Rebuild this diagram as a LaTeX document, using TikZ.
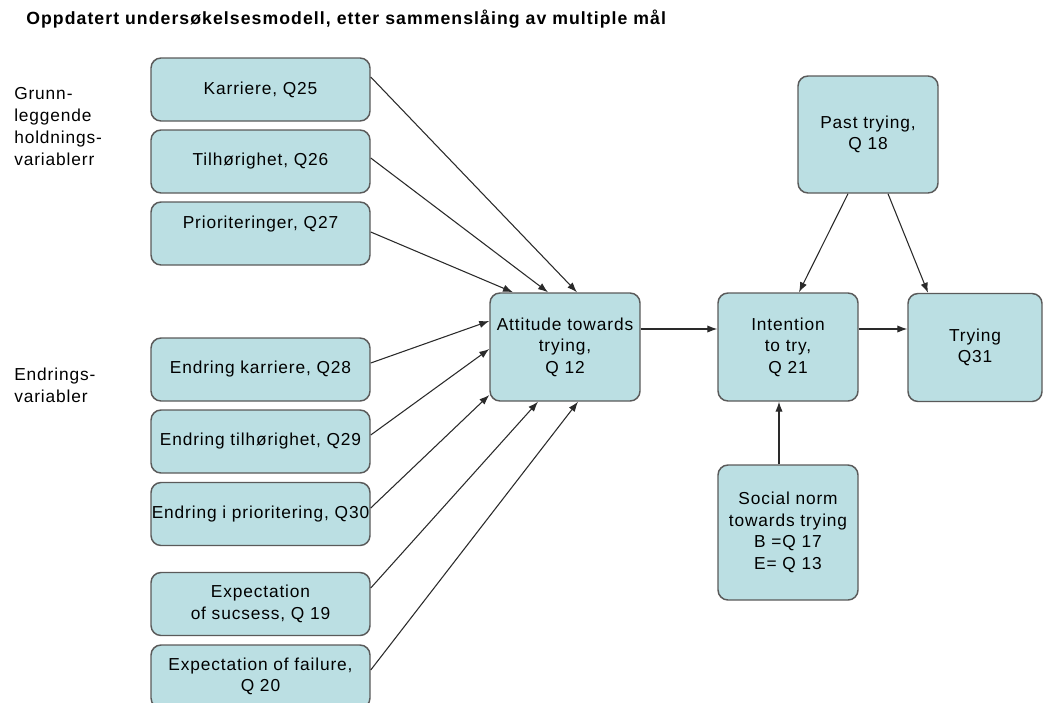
\documentclass[tikz,border=0pt]{standalone}
\usepackage{fontspec}
\setmainfont{Liberation Sans}[LetterSpace=5]
\newfontfamily\headfont{Liberation Sans}[LetterSpace=6]
\usetikzlibrary{arrows.meta,calc}
\definecolor{boxfill}{HTML}{BBDFE3}
\definecolor{boxline}{HTML}{5A5A5A}
\definecolor{arrowline}{HTML}{2A2A2A}
\begin{document}
\begin{tikzpicture}[x=0.75pt,y=-0.75pt,
  varbox/.style={draw=boxline,fill=boxfill,line width=1.1pt,rounded corners=7.5pt,
    align=center,inner sep=0pt,font=\fontsize{13}{16.2}\selectfont},
  leftbox/.style={varbox,minimum width=219*0.75pt,minimum height=63*0.75pt},
  midbox/.style={varbox,minimum width=140*0.75pt,minimum height=108*0.75pt},
  sidetext/.style={align=left,inner sep=0pt,font=\fontsize{13}{16.5}\selectfont},
  link/.style={draw=arrowline,line width=0.8pt,-{Latex[length=7.5pt,width=5.5pt]}}]
\useasboundingbox (0,0) rectangle (1043,703);

% title
\node[anchor=base west,inner sep=0pt,font=\headfont\fontsize{13.25}{15}\selectfont\bfseries] (title) at (26,25)
  {Oppdatert undersøkelsesmodell, etter sammenslåing av multiple mål};

% group labels
\node[sidetext,anchor=north west] (grp1) at (14,87) {Grunn-\\leggende\\holdnings-\\variablerr};
\node[sidetext,anchor=north west] (grp2) at (14,368) {Endrings-\\variabler};

% left column
\node[leftbox] (k1) at (260.5,89.5) {Karriere, Q25};
\node[leftbox] (k2) at (260.5,161.5) {Tilhørighet, Q26};
\node[leftbox] (k3) at (260.5,233.5) {Prioriteringer, Q27\\~};
\node[leftbox] (e1) at (260.5,369.5) {Endring karriere, Q28};
\node[leftbox] (e2) at (260.5,441.5) {Endring tilhørighet, Q29};
\node[leftbox] (e3) at (260.5,514) {\makebox[0pt][c]{Endring i prioritering, Q30}};
\node[leftbox] (x1) at (260.5,604) {Expectation\\of sucsess, Q 19};
\node[leftbox] (x2) at (260.5,676.5) {Expectation of failure,\\Q 20};

% model boxes
\node[midbox,minimum width=150*0.75pt] (att) at (565,347) {Attitude towards\\trying,\\Q 12};
\node[midbox] (int) at (788,347) {Intention\\to try,\\Q 21};
\node[midbox,minimum width=134*0.75pt] (try) at (975,347.5) {Trying\\Q31};
\node[midbox,minimum height=117*0.75pt] (past) at (868,134.5) {Past trying,\\Q 18};
\node[midbox,minimum height=135*0.75pt] (soc) at (788,532.5) {Social norm\\towards trying\\B =Q 17\\E= Q 13};

% connectors into attitude
\draw[link] ($(k1.east)+(0,-12.5)$) -- ($(att.north)+(12,0)$);
\draw[link] ($(k2.east)+(0,-3.5)$) -- ($(att.north)+(-17,0)$);
\draw[link] ($(k3.east)+(0,-1.5)$) -- ($(att.north)+(-52,0)$);
\draw[link] ($(e1.east)+(0,-6.5)$) -- ($(att.west)+(0,-26)$);
\draw[link] ($(e2.east)+(0,-6.5)$) -- ($(att.west)+(0,2)$);
\draw[link] ($(e3.east)+(0,-6)$) -- ($(att.west)+(0,48)$);
\draw[link] ($(x1.east)+(0,-16)$) -- ($(att.south)+(-27,0)$);
\draw[link] ($(x2.east)+(0,-6.5)$) -- ($(att.south)+(13,0)$);

% main chain
\draw[link] ($(att.east)+(0,-18)$) -- ($(int.west)+(0,-18)$);
\draw[link] ($(int.east)+(0,-18)$) -- ($(try.west)+(0,-18.5)$);
\draw[link] ($(past.south)+(-20,0)$) -- ($(int.north)+(11,0)$);
\draw[link] ($(past.south)+(20,0)$) -- ($(try.north)+(-47,0)$);
\draw[link] ($(soc.north)+(-9,0)$) -- ($(int.south)+(-9,0)$);
\end{tikzpicture}
\end{document}
